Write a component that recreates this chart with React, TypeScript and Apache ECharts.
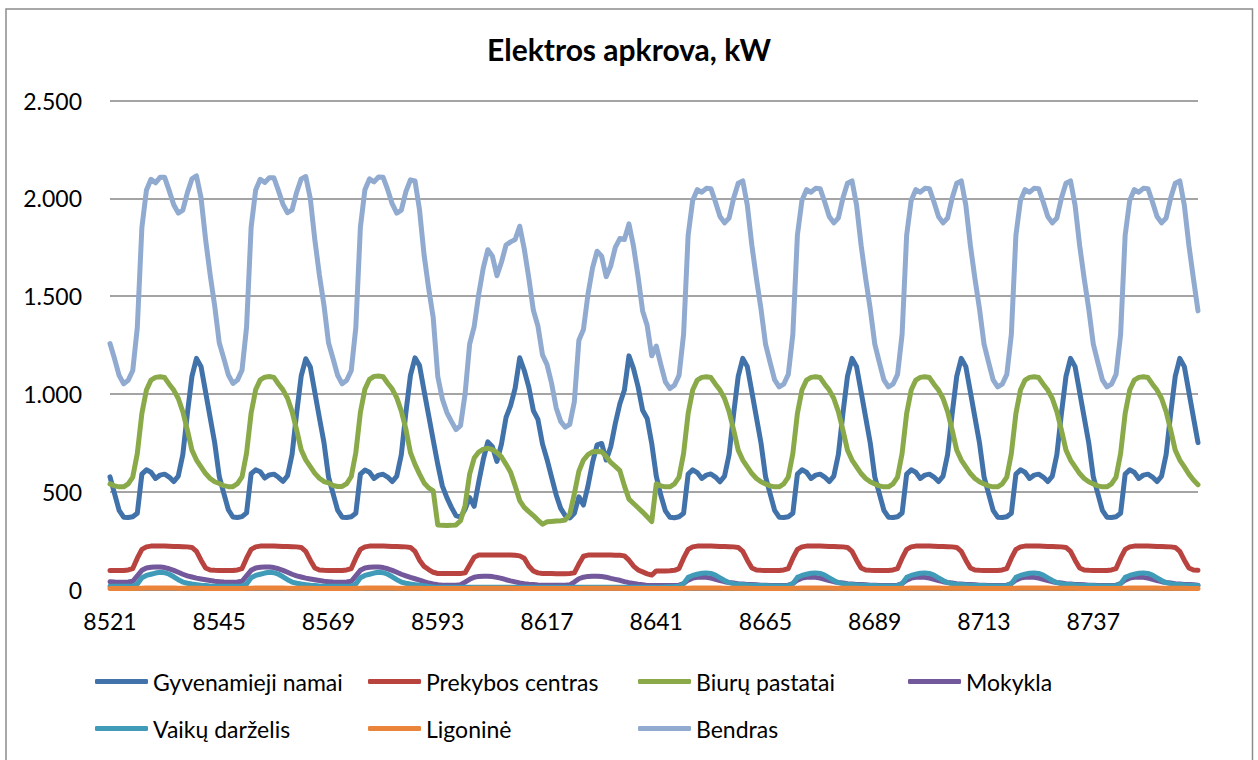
import { useEffect, useRef } from "react";
import * as echarts from "echarts";

// hours shown on the category axis (8521 … 8760)
const firstHour = 8521;
const hourCount = 240;
const categories: string[] = [];
for (let i = 0; i < hourCount; i++) categories.push(String(firstHour + i));

const yTicks = { min: 0, max: 2500, step: 500 };

const seriesNames = [
  "Gyvenamieji namai",
  "Prekybos centras",
  "Biurų pastatai",
  "Mokykla",
  "Vaikų darželis",
  "Ligoninė",
  "Bendras",
];

const gyvenamiejiNamai = [
  576, 490, 405, 370, 368, 372, 390, 590, 612, 600, 568, 585, 590, 575, 552, 580, 690, 900, 1090, 1182, 1140, 1010, 880, 750,
  578, 492, 408, 371, 368, 373, 392, 592, 612, 602, 570, 586, 590, 574, 553, 582, 692, 902, 1092, 1180, 1138, 1008, 878, 752,
  576, 490, 406, 370, 368, 372, 390, 590, 611, 600, 568, 585, 589, 575, 552, 580, 690, 905, 1095, 1185, 1145, 1015, 890, 764,
  640, 530, 470, 420, 378, 370, 410, 470, 425, 550, 665, 755, 730, 655, 745, 880, 940, 1030, 1185, 1120, 1035, 915, 870, 745,
  665, 575, 485, 415, 378, 366, 390, 474, 432, 530, 650, 740, 747, 662, 730, 849, 950, 1020, 1195, 1130, 1037, 917, 875, 747,
  580, 482, 402, 370, 367, 372, 390, 590, 612, 598, 568, 585, 591, 575, 551, 580, 690, 900, 1090, 1182, 1140, 1010, 880, 750,
  577, 490, 405, 370, 368, 372, 390, 590, 612, 600, 568, 585, 590, 575, 552, 580, 690, 900, 1090, 1182, 1140, 1010, 880, 750,
  576, 490, 405, 370, 368, 372, 391, 590, 612, 600, 568, 585, 590, 575, 552, 580, 690, 900, 1090, 1182, 1140, 1010, 880, 750,
  576, 490, 405, 370, 368, 372, 390, 590, 612, 600, 568, 585, 590, 575, 552, 580, 690, 900, 1090, 1182, 1140, 1010, 880, 750,
  576, 490, 405, 370, 368, 372, 390, 590, 612, 600, 568, 585, 590, 575, 552, 580, 690, 900, 1090, 1182, 1140, 1010, 880, 751,
];

const prekybosCentras = [
  97, 97, 97, 97, 100, 107, 160, 205, 218, 222, 222, 222, 222, 221, 220, 220, 219, 218, 215, 195, 150, 110, 100, 98,
  97, 97, 97, 97, 100, 107, 160, 205, 218, 222, 222, 222, 222, 221, 220, 220, 219, 218, 215, 195, 150, 110, 100, 98,
  97, 97, 97, 97, 100, 107, 160, 205, 218, 222, 222, 222, 222, 221, 220, 220, 219, 218, 215, 195, 150, 118, 102, 88,
  82, 82, 82, 82, 82, 82, 85, 125, 165, 176, 177, 177, 177, 177, 177, 177, 176, 175, 172, 160, 120, 95, 85, 82,
  82, 82, 81, 81, 81, 82, 85, 130, 170, 176, 176, 176, 176, 176, 176, 175, 175, 172, 150, 120, 100, 90, 80, 74,
  95, 95, 95, 96, 98, 107, 160, 205, 218, 222, 222, 222, 222, 221, 220, 220, 219, 218, 215, 195, 150, 110, 100, 98,
  97, 97, 97, 97, 100, 107, 160, 205, 218, 222, 222, 222, 222, 221, 220, 220, 219, 218, 215, 195, 150, 110, 100, 98,
  97, 97, 97, 97, 100, 107, 160, 205, 218, 222, 222, 222, 222, 221, 220, 220, 219, 218, 215, 195, 150, 110, 100, 98,
  97, 97, 97, 97, 100, 107, 160, 205, 218, 222, 222, 222, 222, 221, 220, 220, 219, 218, 215, 195, 150, 110, 100, 98,
  97, 97, 97, 97, 100, 107, 160, 205, 218, 222, 222, 222, 222, 221, 220, 220, 219, 218, 215, 195, 150, 110, 100, 98,
];

const biuruPastatai = [
  540, 530, 525, 525, 540, 575, 696, 900, 1020, 1071, 1085, 1088, 1084, 1050, 1020, 977, 909, 815, 713, 662, 627, 593, 568, 551,
  542, 531, 526, 526, 541, 576, 698, 902, 1022, 1072, 1086, 1089, 1085, 1051, 1021, 978, 910, 816, 714, 663, 628, 594, 569, 552,
  545, 532, 527, 527, 542, 578, 700, 905, 1025, 1075, 1090, 1092, 1088, 1055, 1025, 980, 912, 820, 700, 640, 590, 545, 520, 505,
  330, 328, 327, 328, 330, 352, 430, 590, 672, 703, 718, 722, 716, 700, 678, 640, 600, 530, 455, 420, 398, 378, 355, 334,
  346, 348, 350, 352, 355, 385, 490, 605, 662, 690, 704, 706, 704, 680, 650, 630, 608, 530, 462, 440, 418, 396, 372, 347,
  540, 530, 525, 525, 540, 575, 696, 900, 1020, 1071, 1085, 1088, 1084, 1050, 1020, 977, 909, 815, 713, 662, 627, 593, 568, 551,
  540, 530, 525, 525, 540, 575, 696, 900, 1020, 1071, 1085, 1088, 1084, 1050, 1020, 977, 909, 815, 713, 662, 627, 593, 568, 551,
  540, 530, 525, 525, 540, 575, 696, 900, 1020, 1071, 1085, 1088, 1084, 1050, 1020, 977, 909, 815, 713, 662, 627, 593, 568, 551,
  540, 530, 525, 525, 540, 575, 696, 900, 1020, 1071, 1085, 1088, 1084, 1050, 1020, 977, 909, 815, 713, 662, 627, 593, 568, 551,
  540, 530, 525, 525, 540, 575, 696, 900, 1020, 1071, 1085, 1088, 1084, 1050, 1020, 977, 909, 815, 713, 662, 627, 590, 560, 536,
];

const mokykla = [
  40, 38, 37, 37, 38, 42, 70, 98, 110, 114, 115, 115, 112, 106, 98, 88, 78, 70, 64, 58, 54, 50, 46, 42,
  40, 38, 37, 37, 38, 42, 70, 98, 110, 114, 115, 115, 112, 106, 98, 88, 78, 70, 64, 58, 54, 50, 46, 42,
  40, 38, 37, 37, 38, 42, 70, 98, 110, 114, 115, 115, 112, 106, 98, 88, 78, 70, 62, 55, 48, 40, 33, 28,
  24, 22, 22, 22, 22, 25, 38, 52, 63, 67, 68, 68, 66, 62, 57, 50, 44, 39, 34, 30, 27, 25, 23, 22,
  22, 22, 22, 22, 22, 24, 38, 55, 63, 67, 68, 68, 66, 63, 57, 52, 47, 40, 35, 31, 27, 24, 21, 20,
  20, 20, 20, 20, 20, 22, 30, 48, 58, 62, 64, 62, 58, 52, 46, 40, 36, 33, 30, 28, 26, 25, 24, 22,
  22, 20, 20, 20, 20, 22, 30, 48, 58, 62, 64, 62, 58, 52, 46, 40, 36, 33, 30, 28, 26, 25, 24, 22,
  22, 20, 20, 20, 20, 22, 30, 48, 58, 62, 64, 62, 58, 52, 46, 40, 36, 33, 30, 28, 26, 25, 24, 22,
  22, 20, 20, 20, 20, 22, 30, 48, 58, 62, 64, 62, 58, 52, 46, 40, 36, 33, 30, 28, 26, 25, 24, 22,
  22, 20, 20, 20, 20, 22, 30, 48, 58, 62, 64, 62, 58, 52, 46, 40, 36, 33, 30, 28, 26, 25, 24, 22,
];

const vaikuDarzelis = [
  17, 16, 16, 16, 16, 17, 28, 60, 72, 78, 84, 88, 86, 78, 65, 50, 38, 32, 28, 25, 22, 20, 18, 17,
  17, 16, 16, 16, 16, 17, 28, 60, 72, 78, 84, 88, 86, 78, 65, 50, 38, 32, 28, 25, 22, 20, 18, 17,
  17, 16, 16, 16, 16, 17, 28, 60, 72, 78, 84, 88, 86, 78, 65, 50, 38, 32, 28, 25, 22, 19, 16, 13,
  11, 11, 11, 11, 11, 11, 11, 11, 12, 12, 12, 12, 12, 12, 12, 12, 12, 11, 11, 11, 11, 11, 11, 11,
  11, 11, 11, 11, 11, 11, 11, 11, 12, 12, 12, 12, 12, 12, 12, 12, 12, 11, 11, 11, 11, 11, 11, 11,
  12, 12, 13, 14, 15, 17, 30, 62, 72, 78, 83, 85, 82, 74, 60, 46, 35, 30, 27, 25, 23, 22, 21, 20,
  20, 18, 18, 18, 18, 19, 30, 62, 72, 78, 83, 85, 82, 74, 60, 46, 35, 30, 27, 25, 23, 22, 21, 20,
  20, 18, 18, 18, 18, 19, 30, 62, 72, 78, 83, 85, 82, 74, 60, 46, 35, 30, 27, 25, 23, 22, 21, 20,
  20, 18, 18, 18, 18, 19, 30, 62, 72, 78, 83, 85, 82, 74, 60, 46, 35, 30, 27, 25, 23, 22, 21, 20,
  20, 18, 18, 18, 18, 19, 30, 62, 72, 78, 83, 85, 82, 74, 60, 46, 35, 30, 27, 25, 23, 22, 21, 20,
];

const ligonine = [
  5, 5, 5, 5, 5, 5, 6, 7, 8, 8, 8, 8, 8, 8, 8, 7, 7, 6, 6, 6, 6, 5, 5, 5,
  5, 5, 5, 5, 5, 5, 6, 7, 8, 8, 8, 8, 8, 8, 8, 7, 7, 6, 6, 6, 6, 5, 5, 5,
  5, 5, 5, 5, 5, 5, 6, 7, 8, 8, 8, 8, 8, 8, 8, 7, 7, 6, 6, 6, 6, 5, 5, 5,
  5, 5, 5, 5, 5, 5, 5, 5, 6, 6, 6, 6, 6, 6, 6, 6, 6, 5, 5, 5, 5, 5, 5, 5,
  5, 5, 5, 5, 5, 5, 5, 5, 6, 6, 6, 6, 6, 6, 6, 6, 6, 5, 5, 5, 5, 5, 5, 5,
  5, 5, 5, 5, 5, 5, 6, 7, 8, 8, 8, 8, 8, 8, 8, 7, 7, 6, 6, 6, 6, 5, 5, 5,
  5, 5, 5, 5, 5, 5, 6, 7, 8, 8, 8, 8, 8, 8, 8, 7, 7, 6, 6, 6, 6, 5, 5, 5,
  5, 5, 5, 5, 5, 5, 6, 7, 8, 8, 8, 8, 8, 8, 8, 7, 7, 6, 6, 6, 6, 5, 5, 5,
  5, 5, 5, 5, 5, 5, 6, 7, 8, 8, 8, 8, 8, 8, 8, 7, 7, 6, 6, 6, 6, 5, 5, 5,
  5, 5, 5, 5, 5, 5, 6, 7, 8, 8, 8, 8, 8, 8, 8, 7, 7, 6, 6, 6, 6, 5, 5, 5,
];

const bendras = [
  1258, 1180, 1095, 1052, 1070, 1120, 1340, 1850, 2042, 2098, 2080, 2108, 2108, 2040, 1968, 1925, 1940, 2030, 2100, 2115, 2003, 1790, 1610, 1450,
  1262, 1182, 1098, 1054, 1071, 1122, 1342, 1852, 2043, 2098, 2082, 2106, 2106, 2040, 1970, 1927, 1942, 2032, 2100, 2112, 2000, 1788, 1608, 1455,
  1262, 1180, 1096, 1052, 1070, 1120, 1340, 1852, 2045, 2100, 2085, 2110, 2108, 2045, 1972, 1925, 1940, 2035, 2095, 2090, 1940, 1710, 1540, 1390,
  1090, 975, 905, 860, 818, 838, 1000, 1255, 1345, 1510, 1645, 1738, 1705, 1605, 1675, 1762, 1778, 1790, 1858, 1742, 1592, 1428, 1348, 1200,
  1150, 1055, 930, 860, 830, 845, 960, 1275, 1330, 1510, 1645, 1730, 1705, 1600, 1655, 1750, 1795, 1790, 1870, 1755, 1600, 1425, 1350, 1195,
  1245, 1150, 1062, 1028, 1045, 1095, 1305, 1812, 1990, 2045, 2032, 2052, 2050, 1982, 1908, 1875, 1900, 2002, 2078, 2090, 1965, 1760, 1590, 1435,
  1255, 1162, 1072, 1036, 1050, 1100, 1305, 1812, 1990, 2045, 2032, 2052, 2050, 1982, 1908, 1875, 1900, 2002, 2078, 2090, 1965, 1760, 1590, 1435,
  1255, 1162, 1072, 1036, 1050, 1100, 1305, 1812, 1990, 2045, 2032, 2052, 2050, 1982, 1908, 1875, 1900, 2002, 2078, 2090, 1965, 1760, 1590, 1435,
  1255, 1162, 1072, 1036, 1050, 1100, 1305, 1812, 1990, 2045, 2032, 2052, 2050, 1982, 1908, 1875, 1900, 2002, 2078, 2090, 1965, 1760, 1590, 1435,
  1255, 1162, 1072, 1036, 1050, 1100, 1305, 1812, 1990, 2045, 2032, 2052, 2050, 1982, 1908, 1875, 1900, 2002, 2078, 2090, 1965, 1760, 1590, 1425,
];

const seriesData = [gyvenamiejiNamai, prekybosCentras, biuruPastatai, mokykla, vaikuDarzelis, ligonine, bendras];
const seriesColors = ["#4272AA", "#B8433F", "#8AAA4A", "#73589B", "#3F9BB7", "#E9843A", "#90AAD0"];

const FONT = "Lato, 'Open Sans', sans-serif";

function fmt(v: number): string {
  const s = String(Math.round(v));
  return s.replace(/\B(?=(\d{3})+(?!\d))/g, ".");
}

export default function App() {
  const ref = useRef<HTMLDivElement>(null);
  useEffect(() => {
    if (!ref.current) return;
    const chart = echarts.init(ref.current, null, { renderer: "svg" });
    const colX = [95, 368, 638, 908];
    const rowY = [682, 729];
    chart.setOption({
      animation: false,
      backgroundColor: "#ffffff",
      title: {
        text: "Elektros apkrova, kW",
        left: "center",
        top: 34,
        padding: 0,
        textStyle: { fontFamily: FONT, fontSize: 30, fontWeight: "bold", color: "#000" },
      },
      grid: { left: 110, right: 60, top: 100.7, bottom: 170.5, containLabel: false },
      xAxis: {
        type: "category",
        data: categories,
        boundaryGap: false,
        axisLine: { show: true, lineStyle: { color: "#868686", width: 1.5 } },
        axisTick: { show: false },
        axisLabel: { interval: 23, margin: 20, fontFamily: FONT, fontSize: 23, color: "#000" },
        splitLine: { show: false },
      },
      yAxis: {
        type: "value",
        min: yTicks.min,
        max: yTicks.max,
        interval: yTicks.step,
        axisLine: { show: false },
        axisTick: { show: false },
        axisLabel: { margin: 28, fontFamily: FONT, fontSize: 23, color: "#000", formatter: (v: number) => fmt(v) },
        splitLine: { show: true, lineStyle: { color: "#868686", width: 1.5 } },
      },
      legend: seriesNames.map((name, k) => ({
        data: [name],
        left: colX[k < 4 ? k : k - 4],
        top: rowY[k < 4 ? 0 : 1] - 12,
        icon: "roundRect",
        itemWidth: 53,
        itemHeight: 5,
        padding: 0,
        selectedMode: false,
        textStyle: { fontFamily: FONT, fontSize: 23, color: "#000" },
      })),
      graphic: [
        {
          type: "rect",
          silent: true,
          shape: { x: 6, y: 9, width: 1246.5, height: 760 },
          style: { fill: "none", stroke: "#8c8c8c", lineWidth: 1.5 },
        },
      ],
      series: seriesNames.map((name, k) => ({
        name,
        type: "line",
        data: seriesData[k],
        symbol: "none",
        showSymbol: false,
        smooth: false,
        color: seriesColors[k],
        lineStyle: { width: 5, color: seriesColors[k], cap: "round", join: "round" },
        z: 2 + k,
      })),
    });
    return () => chart.dispose();
  }, []);
  return (
    <div style={{ position: "fixed", left: 0, top: 0, width: 1258, height: 760, background: "#fff" }}>
      <div ref={ref} style={{ width: 1258, height: 760 }} />
    </div>
  );
}
